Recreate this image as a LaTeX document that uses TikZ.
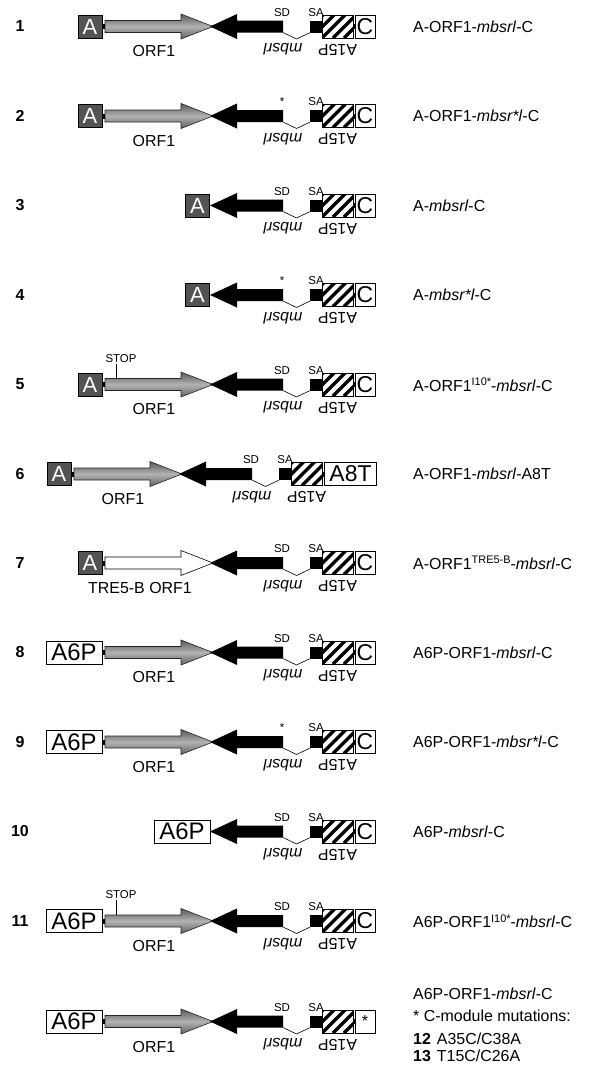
\documentclass[tikz,border=0pt]{standalone}
\usepackage{fontspec}
\setmainfont{Liberation Sans}
\usetikzlibrary{positioning}
\newcommand{\supr}[1]{\raisebox{5.5bp}{\fontsize{11}{11}\selectfont #1}}
\tikzset{
	labeltext/.style={font=\fontsize{16}{19}\selectfont, inner sep=1pt}
}
\tikzset{
	tinytext/.style={font=\fontsize{11.5}{12}\selectfont, inner sep=1pt}
}
\begin{document}
\begin{tikzpicture}[x=1bp, y=-1bp]

  \tikzset{
    abox/.style={
        draw=black,
        fill=gray!65!black,
        text=white,
        minimum width=24bp,
        minimum height=23bp,
        inner sep=0pt,
        font=\fontsize{22}{22}\selectfont
      },
    wbox/.style={
        draw=black,
        fill=white,
        minimum height=23bp,
        inner sep=0pt,
        font=\fontsize{23}{23}\selectfont
      },
    hatchbox/.style={
        draw=black,
        fill=white,
        minimum width=31bp,
        minimum height=23bp,
        inner sep=0pt,
        path picture={
            \foreach \k in {-2,...,2}
              \draw[line width=3.4bp] ([xshift=\k*11bp]path picture bounding box.south west) -- ++(26bp,26bp);
          }
      },
    sablock/.style={fill=black, minimum width=12bp, minimum height=12bp, inner sep=0pt},
    linker/.style={fill=black, minimum width=3bp, minimum height=5bp, inner sep=0pt},
    splice/.style={line width=0.6bp, black},
    flipped/.style={rotate=180, inner sep=0pt, font=\fontsize{16}{19}\selectfont},
    orfarrow/.style={draw=gray!30!black, line width=0.6bp, top color=gray!70!black, bottom color=gray!75!black, middle color=gray!60},
    rownum/.style={font=\fontsize{16}{19}\selectfont\bfseries}
  }

  \useasboundingbox (0,0) rectangle (597,1071);

  % ORF1 arrows
  \foreach \r/\cy/\dx in {1/26.5/0, 2/116/0, 5/384.5/0, 6/474/-31, 8/652.5/0, 9/742/0, 11/921/0, 12/1021.5/0} {
    \begin{scope}[shift={(\dx,\cy)}]
      \shadedraw[orfarrow] (105,-6) -- (181,-6) -- (181,-12.5) -- (213,0) -- (181,12.5) -- (181,6) -- (105,6) -- cycle;
      \node[linker] (l\r) at (103.5,0) {};
      \node[labeltext] (orf\r) at (154,25) {ORF1};
    \end{scope}
  }

  % TRE5-B arrow
  \draw[fill=white, line width=0.6bp] (105,557) -- (181,557) -- (181,550.5) -- (213,563) -- (181,575.5) -- (181,569) -- (105,569) -- cycle;
  \node[linker] (l7) at (103.5,563) {};
  \node[labeltext] (orf7) at (140,588) {TRE5-B ORF1};

  % mbsrl, SD/SA and A15P
  \foreach \r/\cy/\dx/\sdlab in {1/26.5/0/SD, 2/116/0/*, 3/205.5/0/SD, 4/295/0/*, 5/384.5/0/SD, 6/474/-31/SD, 7/563/0/SD, 8/652.5/0/SD, 9/742/0/*, 10/831.5/0/SD, 11/921/0/SD, 12/1021.5/0/SD} {
    \begin{scope}[shift={(\dx,\cy)}]
      \fill[black] (210,0) -- (237,-12.5) -- (237,-6) -- (283,-6) -- (283,6) -- (237,6) -- (237,12.5) -- cycle;
      \coordinate (sd\r) at (283,6);
      \node[sablock] (sa\r) at (316,0) {};
      \draw[splice] (sd\r) -- (296.5,12.5) -- (sa\r.south west);
      \node[tinytext] (sdl\r) at (282,-14) {\sdlab};
      \node[tinytext] (sal\r) at (316,-14) {SA};
      \node[hatchbox] (h\r) at (337.5,0) {};
      \node[flipped] (m\r) at (283,23) {\itshape mbsrl};
      \node[flipped] (p\r) at (337.5,23) {A15P};
    \end{scope}
  }

  % 5' boxes
  \foreach \r/\cy/\dx in {1/26.5/0, 2/116/0, 5/384.5/0, 6/474/-31, 7/563/0} {
    \begin{scope}[shift={(\dx,\cy)}]
      \node[abox] (a\r) at (90,0) {A};
    \end{scope}
  }
  \node[abox] (a3) at (197.5,205.5) {A};
  \node[abox] (a4) at (197.5,295) {A};
  \foreach \r/\cy in {8/652.5, 9/742, 11/921, 12/1021.5}
    \node[wbox, minimum width=56bp, font=\fontsize{24}{24}\selectfont] (a\r) at (74,\cy) {A6P};
  \node[wbox, minimum width=56bp, font=\fontsize{24}{24}\selectfont] (a10) at (182,831.5) {A6P};

  % 3' boxes
  \foreach \r/\cy in {1/26.5, 2/116, 3/205.5, 4/295, 5/384.5, 7/563, 8/652.5, 9/742, 10/831.5, 11/921} {
    \node[linker] (lc\r) at (354,\cy) {};
    \node[wbox, minimum width=20bp] (c\r) at (365,\cy) {C};
  }
  \node[linker] (lc6) at (323,474) {};
  \node[wbox, minimum width=52bp] (c6) at (350.5,474) {A8T};
  \node[linker] (lc12) at (354,1021.5) {};
  \node[wbox, minimum width=20bp, font=\fontsize{16}{16}\selectfont] (c12) at (365,1021.5) {*};

  % STOP marks
  \foreach \r/\cy in {5/384.5, 11/921} {
    \coordinate (stopfoot\r) at (116,\cy-6);
    \node[tinytext] (stop\r) at (121,\cy-26) {STOP};
    \draw[splice] (stopfoot\r) -- (stopfoot\r |- stop\r.south);
  }

  % row numbers and names
  \foreach \r/\cy/\name in {
      1/26.5/{A-ORF1-\textit{mbsrl}-C},
      2/116/{A-ORF1-\textit{mbsr*l}-C},
      3/205.5/{A-\textit{mbsrl}-C},
      4/295/{A-\textit{mbsr*l}-C},
      5/384.5/{A-ORF1\supr{I10*}-\textit{mbsrl}-C},
      6/474/{A-ORF1-\textit{mbsrl}-A8T},
      7/563/{A-ORF1\supr{TRE5-B}-\textit{mbsrl}-C},
      8/652.5/{A6P-ORF1-\textit{mbsrl}-C},
      9/742/{A6P-ORF1-\textit{mbsr*l}-C},
      10/831.5/{A6P-\textit{mbsrl}-C},
      11/921/{A6P-ORF1\supr{I10*}-\textit{mbsrl}-C}} {
    \node[rownum] (num\r) at (20,\cy) {\r};
    \node[labeltext, anchor=west] (name\r) at (412,\cy) {\name};
  }
  \node[labeltext, anchor=west] (name12) at (412,993.5) {A6P-ORF1-\textit{mbsrl}-C};
  \node[labeltext, anchor=west] (mut) at (412,1016) {* C-module mutations:};
  \node[labeltext, anchor=west] (mut12) at (412,1039) {\textbf{12}\hspace{6bp}A35C/C38A};
  \node[labeltext, anchor=west] (mut13) at (412,1056) {\textbf{13}\hspace{6bp}T15C/C26A};

\end{tikzpicture}
\end{document}
